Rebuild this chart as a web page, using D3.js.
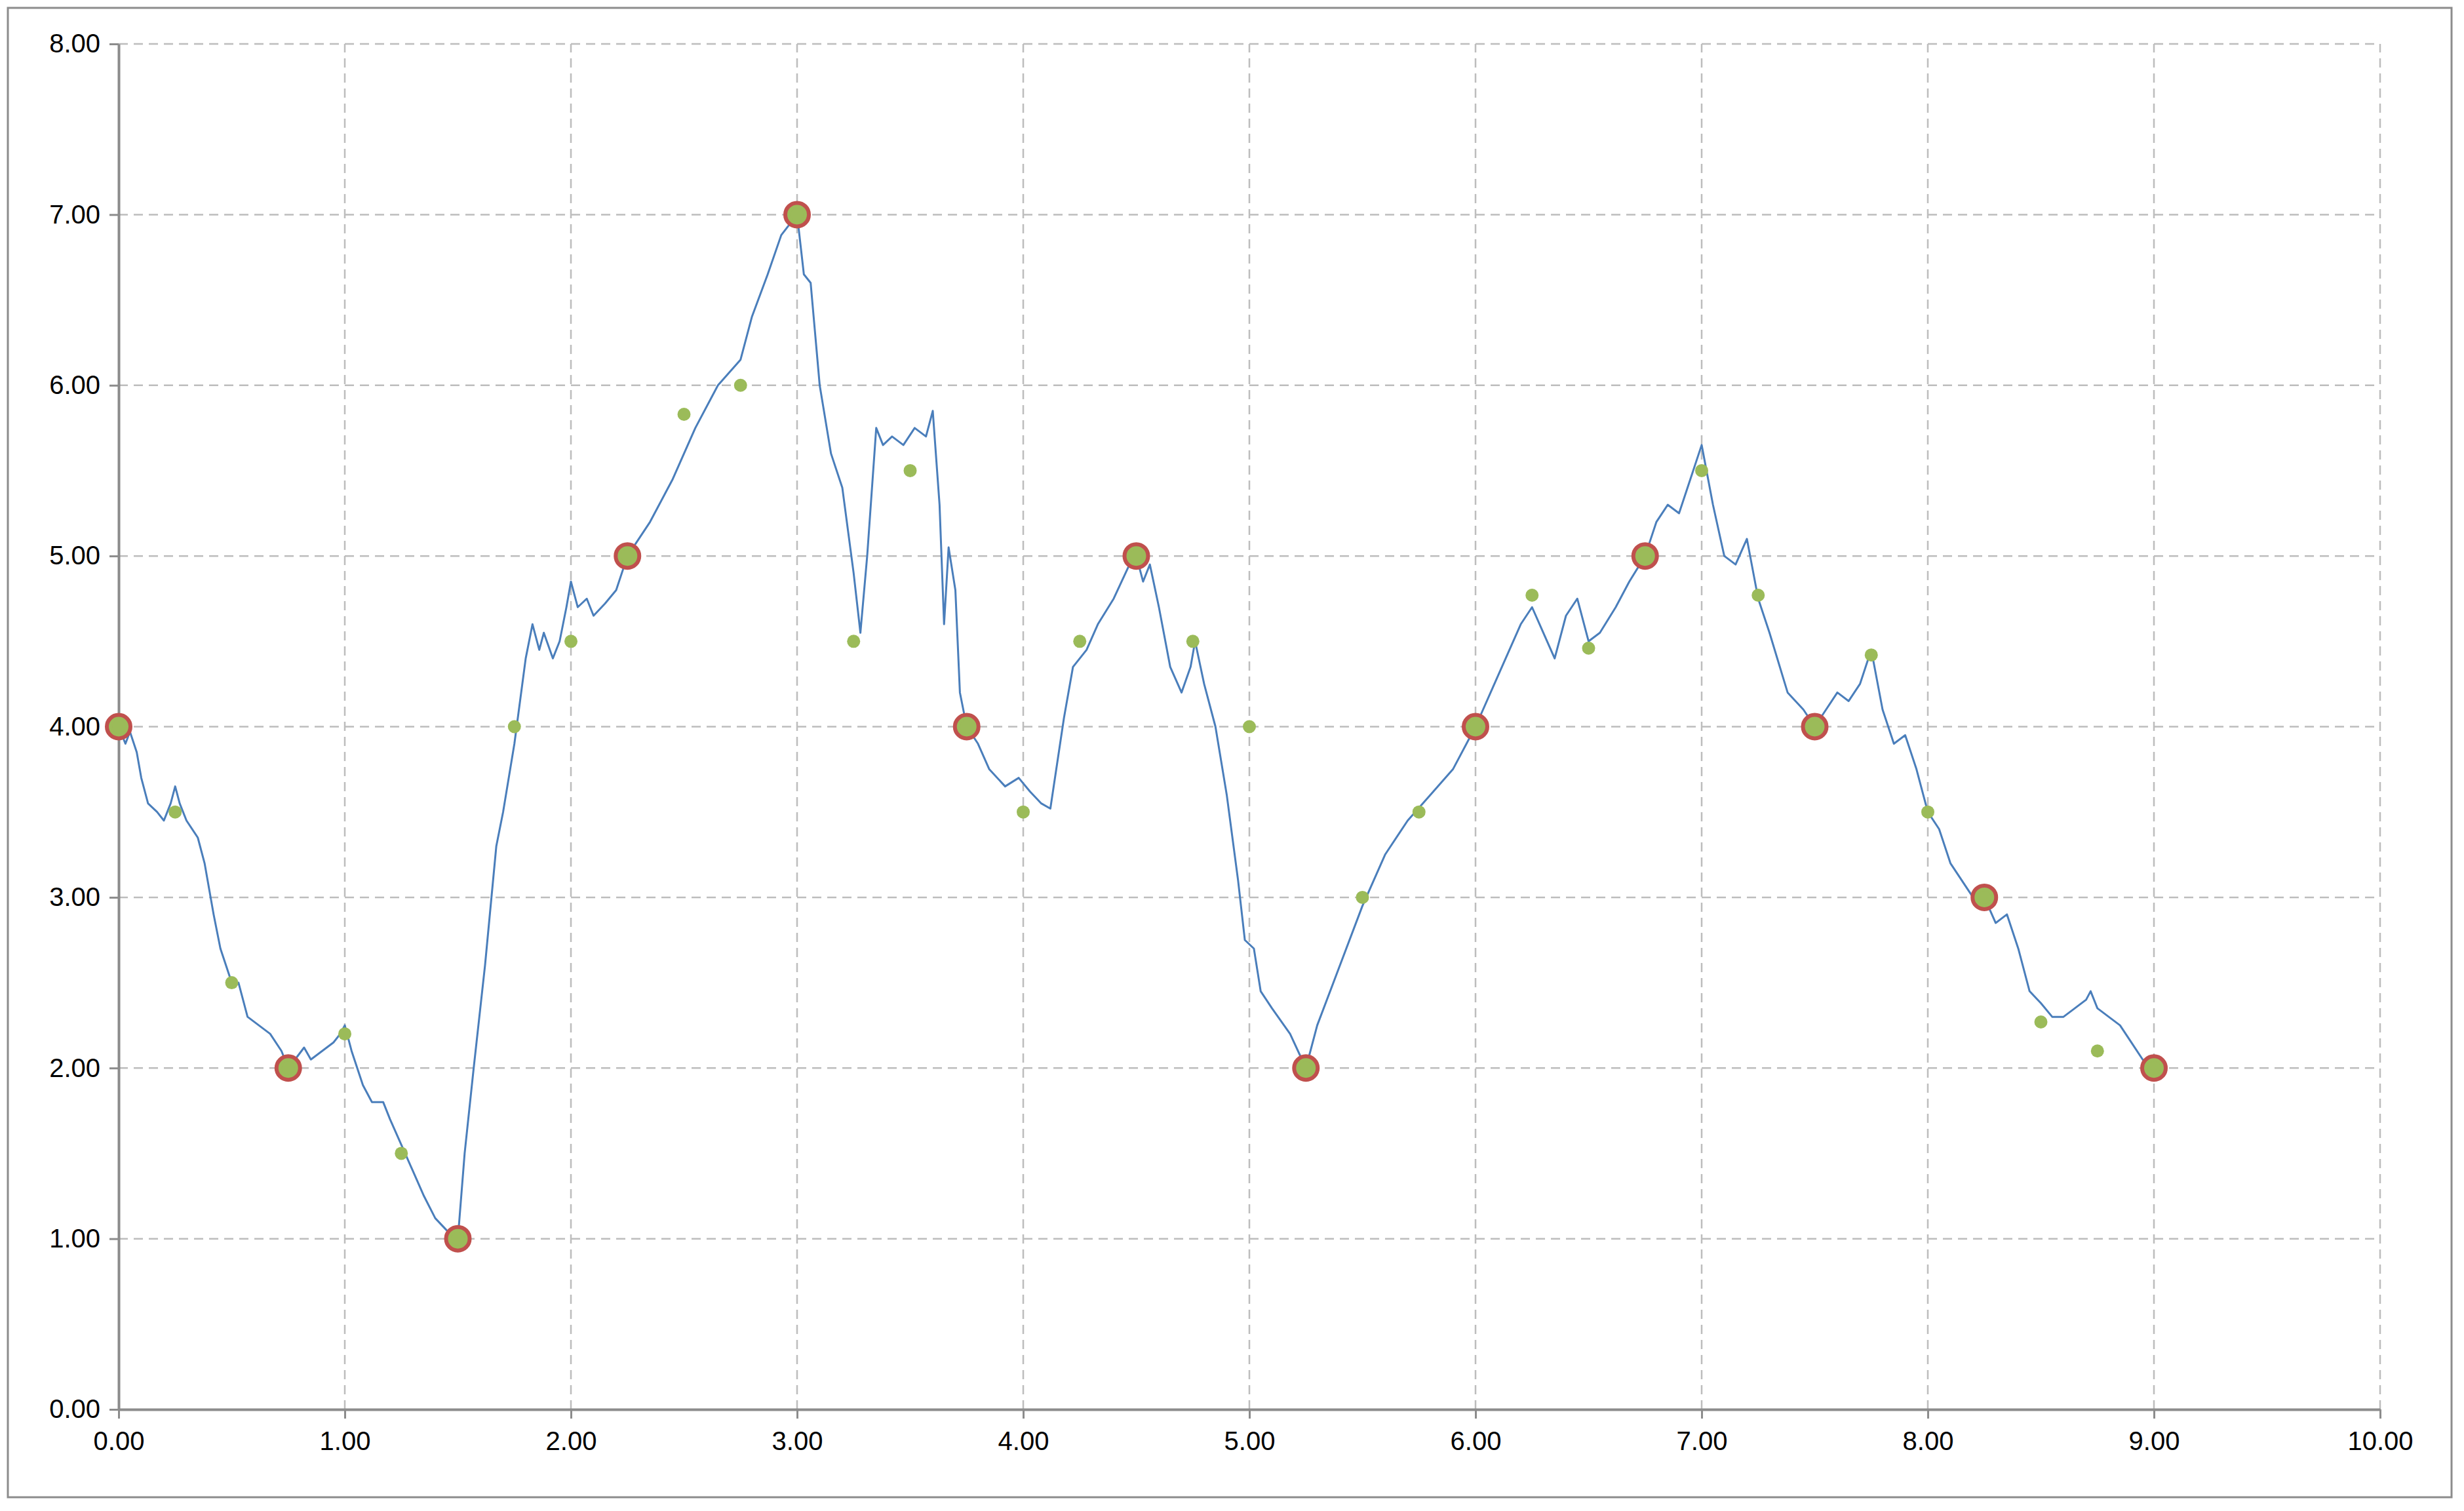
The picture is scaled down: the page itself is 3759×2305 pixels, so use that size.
<!DOCTYPE html>
<html>
<head>
<meta charset="utf-8">
<script src="https://cdn.jsdelivr.net/npm/d3@7"></script>
<style>
  body { margin: 0; background: #fff; }
  text { font-family: "Liberation Sans", "Open Sans", sans-serif; }
</style>
</head>
<body>
<svg id="chart_svg" width="3759" height="2305"></svg>
<script>
// blue path (x, y)
const pathX = [0,0.03,0.05,0.08,0.1,0.13,0.17,0.2,0.23,0.25,0.27,0.3,0.35,0.38,0.42,0.45,0.5,0.53,0.57,0.62,0.67,0.72,0.75,0.78,0.82,0.85,0.9,0.95,0.98,1.0,1.03,1.08,1.12,1.17,1.2,1.25,1.3,1.35,1.4,1.45,1.5,1.53,1.57,1.62,1.67,1.7,1.75,1.8,1.83,1.86,1.88,1.92,1.95,1.98,2.0,2.03,2.07,2.1,2.15,2.2,2.25,2.35,2.45,2.55,2.65,2.75,2.8,2.87,2.93,3.0,3.03,3.06,3.1,3.15,3.2,3.25,3.28,3.31,3.35,3.38,3.42,3.47,3.52,3.57,3.6,3.63,3.65,3.67,3.7,3.72,3.75,3.8,3.85,3.92,3.98,4.03,4.08,4.12,4.18,4.22,4.28,4.33,4.4,4.47,4.5,4.53,4.56,4.6,4.65,4.7,4.74,4.76,4.8,4.85,4.9,4.95,4.98,5.02,5.05,5.1,5.18,5.25,5.3,5.4,5.5,5.6,5.7,5.8,5.9,6.0,6.1,6.2,6.25,6.3,6.35,6.4,6.45,6.5,6.55,6.62,6.68,6.75,6.8,6.85,6.9,6.95,7.0,7.05,7.1,7.15,7.2,7.25,7.3,7.38,7.45,7.5,7.55,7.6,7.65,7.7,7.75,7.8,7.85,7.9,7.95,8.0,8.05,8.1,8.15,8.2,8.25,8.3,8.35,8.4,8.45,8.5,8.55,8.6,8.65,8.7,8.72,8.75,8.8,8.85,8.9,8.95,9.0];
const pathY = [4,3.9,3.97,3.85,3.7,3.55,3.5,3.45,3.55,3.65,3.55,3.45,3.35,3.2,2.9,2.7,2.5,2.5,2.3,2.25,2.2,2.1,2,2.05,2.12,2.05,2.1,2.15,2.2,2.25,2.1,1.9,1.8,1.8,1.7,1.55,1.4,1.25,1.12,1.05,1.0,1.5,2.0,2.6,3.3,3.5,3.9,4.4,4.6,4.45,4.55,4.4,4.5,4.7,4.85,4.7,4.75,4.65,4.72,4.8,5.0,5.2,5.45,5.75,6.0,6.15,6.4,6.65,6.88,7.0,6.65,6.6,6.0,5.6,5.4,4.9,4.55,5.0,5.75,5.65,5.7,5.65,5.75,5.7,5.85,5.3,4.6,5.05,4.8,4.2,4.0,3.9,3.75,3.65,3.7,3.62,3.55,3.52,4.05,4.35,4.45,4.6,4.75,4.95,5.0,4.85,4.95,4.7,4.35,4.2,4.35,4.5,4.25,4.0,3.6,3.1,2.75,2.7,2.45,2.35,2.2,2.0,2.25,2.6,2.95,3.25,3.45,3.6,3.75,4.0,4.3,4.6,4.7,4.55,4.4,4.65,4.75,4.5,4.55,4.7,4.85,5.0,5.2,5.3,5.25,5.45,5.65,5.3,5.0,4.95,5.1,4.75,4.55,4.2,4.1,4.0,4.1,4.2,4.15,4.25,4.45,4.1,3.9,3.95,3.75,3.5,3.4,3.2,3.1,3.0,3.0,2.85,2.9,2.7,2.45,2.38,2.3,2.3,2.35,2.4,2.45,2.35,2.3,2.25,2.15,2.05,2.0];

// green dots every 0.25
const dotX = [0,0.25,0.5,0.75,1,1.25,1.5,1.75,2,2.25,2.5,2.75,3,3.25,3.5,3.75,4,4.25,4.5,4.75,5,5.25,5.5,5.75,6,6.25,6.5,6.75,7,7.25,7.5,7.75,8,8.25,8.5,8.75,9];
const dotY = [4,3.5,2.5,2,2.2,1.5,1,4,4.5,5,5.83,6,7,4.5,5.5,4,3.5,4.5,5,4.5,4,2,3,3.5,4,4.77,4.46,5,5.5,4.77,4,4.42,3.5,3,2.27,2.1,2];

// red-ringed key points
const keyX = [0,0.75,1.5,2.25,3,3.75,4.5,5.25,6,6.75,7.5,8.25,9];
const keyY = [4,2,1,5,7,4,5,2,4,5,4,3,2];

const xTicks = d3.range(0, 11, 1);
const yTicks = d3.range(0, 9, 1);

const svg = d3.select("#chart_svg");
const margin = { top: 67, bottom: 155, left: 181, right: 128 };
const width = 3759, height = 2305;

const xScale = d3.scaleLinear().domain([0, 10]).range([margin.left, width - margin.right]);
const yScale = d3.scaleLinear().domain([0, 8]).range([height - margin.bottom, margin.top]);

// outer frame
svg.append("rect")
  .attr("x", 12).attr("y", 12).attr("width", 3728).attr("height", 2272)
  .attr("fill", "none").attr("stroke", "#8c8c8c").attr("stroke-width", 3);

// grid
svg.append("g").selectAll("line").data(xTicks.slice(1)).join("line")
  .attr("x1", d => xScale(d)).attr("x2", d => xScale(d))
  .attr("y1", yScale(0)).attr("y2", yScale(8))
  .attr("stroke", "#bdbdbd").attr("stroke-width", 2.5).attr("stroke-dasharray", "14,9");
svg.append("g").selectAll("line").data(yTicks.slice(1)).join("line")
  .attr("y1", d => yScale(d)).attr("y2", d => yScale(d))
  .attr("x1", xScale(0)).attr("x2", xScale(10))
  .attr("stroke", "#bdbdbd").attr("stroke-width", 2.5).attr("stroke-dasharray", "14,9");

// axes
const fmt = d3.format(".2f");
const gx = svg.append("g").attr("transform", "translate(0," + yScale(0) + ")")
  .call(d3.axisBottom(xScale).tickValues(xTicks).tickFormat(fmt).tickSize(14).tickSizeOuter(0).tickPadding(20));
const gy = svg.append("g").attr("transform", "translate(" + xScale(0) + ",0)")
  .call(d3.axisLeft(yScale).tickValues(yTicks).tickFormat(fmt).tickSize(14).tickSizeOuter(0).tickPadding(14));
[gx, gy].forEach(g => {
  g.select(".domain").attr("stroke", "#8c8c8c").attr("stroke-width", 4);
  g.selectAll(".tick line").attr("stroke", "#8c8c8c").attr("stroke-width", 3);
  g.selectAll("text").attr("font-size", 40).attr("fill", "#000")
    .style("font-family", "'Liberation Sans', sans-serif");
});
gy.selectAll(".tick line").attr("x1", -14).attr("x2", 0);

// blue line
const line = d3.line().x(i => xScale(pathX[i])).y(i => yScale(pathY[i]));
svg.append("path")
  .attr("d", line(d3.range(pathX.length)))
  .attr("fill", "none").attr("stroke", "#4a7ebb").attr("stroke-width", 3)
  .attr("stroke-linejoin", "round");

// red rings
svg.append("g").selectAll("circle").data(keyX).join("circle")
  .attr("cx", (d) => xScale(d)).attr("cy", (d, i) => yScale(keyY[i]))
  .attr("r", 18).attr("fill", "#9bbb59").attr("stroke", "#c0504d").attr("stroke-width", 6);

// green dots
svg.append("g").selectAll("circle").data(dotX).join("circle")
  .attr("cx", (d) => xScale(d)).attr("cy", (d, i) => yScale(dotY[i]))
  .attr("r", 10).attr("fill", "#9bbb59");
</script>
</body>
</html>
